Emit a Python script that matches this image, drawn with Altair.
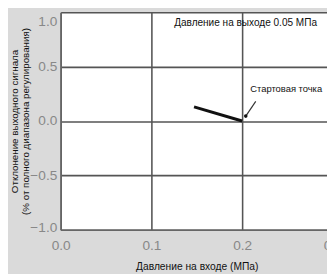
import altair as alt
import pandas as pd

# data
curve_x = [0.147, 0.2]
curve_y = [0.13, 0.0]
leader_x = [0.215, 0.204]
leader_y = [0.18, 0.045]
x_ticks = [0.0, 0.1, 0.2, 0.3]
y_ticks = [-1.0, -0.5, 0.0, 0.5, 1.0]
notes = ["Давление на выходе 0.05 МПа", "Стартовая точка"]
note_x = [0.2825, 0.209]
note_y = [0.9, 0.295]

FONT = "Liberation Sans"

curve = pd.DataFrame({"x": curve_x, "y": curve_y})
leader = pd.DataFrame({"x": leader_x, "y": leader_y})
ann = pd.DataFrame({"t": notes, "x": note_x, "y": note_y})

xscale = alt.Scale(domain=[0, 0.3], range=[0, 279], nice=False, zero=False)
yscale = alt.Scale(domain=[-1, 1], nice=False)

xaxis = alt.Axis(values=x_ticks, format=".1f", title="Давление на входе (МПа)",
                 grid=True, gridColor="#555555", gridWidth=1.6, ticks=False,
                 domainColor="#666666", domainWidth=1.6,
                 labelColor="#888888", labelFontSize=14, labelFont=FONT,
                 labelPadding=9, labelFlush=False,
                 titleFont=FONT, titleFontSize=10.5, titleFontWeight="normal",
                 titleColor="#111111", titlePadding=10)
yaxis = alt.Axis(values=y_ticks, format=".1f",
                 title=["Отклонение выходного сигнала", "(% от полного диапазона регулирования)"],
                 grid=True, gridColor="#555555", gridWidth=1.6, ticks=False,
                 domainColor="#666666", domainWidth=1.6,
                 labelColor="#888888", labelFontSize=14, labelFont=FONT,
                 labelPadding=4, labelFlush=False,
                 labelOffset={"condition": [{"test": "datum.value == 1", "value": 10},
                                            {"test": "datum.value == -1", "value": -2}],
                              "value": 0},
                 titleFont=FONT, titleFontSize=10, titleFontWeight="normal",
                 titleColor="#111111", titleLineHeight=11.5,
                 titleAngle=270, titleAlign="center", titleBaseline="top",
                 titleX=-52, titleY=111.5)

line = alt.Chart(curve).mark_line(color="#111111", strokeWidth=3).encode(
    x=alt.X("x:Q", scale=xscale, axis=xaxis),
    y=alt.Y("y:Q", scale=yscale, axis=yaxis),
)
lead = alt.Chart(leader).mark_line(color="#333333", strokeWidth=1.2).encode(
    x=alt.X("x:Q", scale=xscale), y=alt.Y("y:Q", scale=yscale)
)
dot = alt.Chart(leader.iloc[[1]]).mark_point(color="#111111", filled=True, size=14, opacity=1).encode(
    x=alt.X("x:Q", scale=xscale), y=alt.Y("y:Q", scale=yscale)
)
t1 = alt.Chart(ann.iloc[[0]]).mark_text(align="right", baseline="middle", font=FONT,
                                         fontSize=10.3, color="#111111").encode(
    x=alt.X("x:Q", scale=xscale), y=alt.Y("y:Q", scale=yscale), text="t:N")
t2 = alt.Chart(ann.iloc[[1]]).mark_text(align="left", baseline="middle", font=FONT,
                                         fontSize=9.6, color="#111111").encode(
    x=alt.X("x:Q", scale=xscale), y=alt.Y("y:Q", scale=yscale), text="t:N")

chart = alt.layer(line, lead, dot, t1, t2).properties(
    width=273, height=223,
    autosize=alt.AutoSizeParams(type="none"),
    padding={"left": 54, "top": 1, "right": 0, "bottom": 42},
    background="#dadada",
).configure_view(fill="white", stroke=None)

chart.save("out.html", embed_options={"renderer": "svg", "actions": False})
